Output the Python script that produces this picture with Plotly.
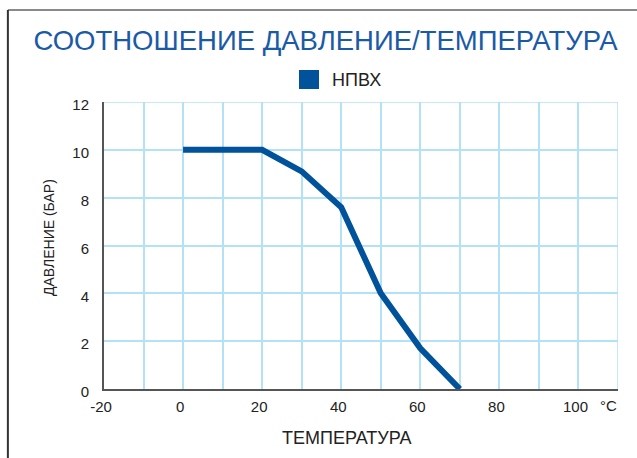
import plotly.graph_objects as go

# Data
temperature = [0, 20, 30, 40, 50, 60, 70]
pressure = [10, 10, 9.1, 7.6, 4.0, 1.7, 0]
series_name = "НПВХ"
x_ticks = [-20, 0, 20, 40, 60, 80, 100]
x_tick_labels = ["-20", "0", "20", "40", "60", "80", "100"]
y_ticks = [0, 2, 4, 6, 8, 10, 12]
title_text = "СООТНОШЕНИЕ ДАВЛЕНИЕ/ТЕМПЕРАТУРА"
x_title = "ТЕМПЕРАТУРА"
y_title = "ДАВЛЕНИЕ (БАР)"
unit_label = "°C"

BLUE = "#00529b"
GRID = "#b3e2f7"
AXIS = "#555555"
TEXT = "#222222"
FONT = "Liberation Sans, Arial, sans-serif"

fig = go.Figure()
fig.add_trace(go.Scatter(
    x=temperature, y=pressure, mode="lines", name=series_name,
    line=dict(color=BLUE, width=6), showlegend=False,
))

fig.update_layout(
    width=637, height=458,
    margin=dict(l=104, r=19, t=102, b=69),
    paper_bgcolor="white", plot_bgcolor="white",
    font=dict(family=FONT, color=TEXT, size=15),
    showlegend=False,
    title=dict(text=title_text, x=0.511, xanchor="center", y=0.912, yanchor="middle",
               font=dict(family=FONT, size=27.5, color="#1a5aa6")),
    xaxis=dict(
        range=[-20, 110], tickvals=x_ticks, ticktext=x_tick_labels, ticks="", showgrid=True,
        gridcolor=GRID, gridwidth=1.5,
        minor=dict(dtick=10, tick0=0, showgrid=True, gridcolor=GRID, gridwidth=1.5),
        showline=True, linecolor=AXIS, linewidth=2, zeroline=False,
        tickfont=dict(size=15, color=TEXT), ticklabelshift=-3, ticklabelstandoff=3,
    ),
    yaxis=dict(
        range=[0, 12], tickvals=y_ticks, ticks="", showgrid=True,
        gridcolor=GRID, gridwidth=1.5,
        showline=True, linecolor=AXIS, linewidth=2, zeroline=False,
        tickfont=dict(size=15, color=TEXT), ticklabelstandoff=10, ticklabelshift=3,
    ),
    shapes=[
        dict(type="line", xref="x", yref="y", x0=-20, x1=110, y0=12, y1=12,
             line=dict(color=GRID, width=1.5), layer="below"),
        dict(type="line", xref="x", yref="y", x0=110, x1=110, y0=0, y1=12,
             line=dict(color=GRID, width=1.5), layer="below"),
        # page frame
        dict(type="line", xref="paper", yref="paper", x0=-0.187, x1=1.04, y0=1.3206, y1=1.3206,
             line=dict(color="#8a8a8a", width=2)),
        dict(type="line", xref="paper", yref="paper", x0=-0.187, x1=-0.187, y0=1.3206, y1=-0.25,
             line=dict(color="#333333", width=2)),
        # legend swatch
        dict(type="rect", xref="paper", yref="paper",
             x0=(299 - 104) / 514, x1=(319 - 104) / 514,
             y0=(389 - 89) / 287, y1=(389 - 70) / 287,
             fillcolor=BLUE, line=dict(width=0)),
    ],
    annotations=[
        dict(text=series_name, xref="paper", yref="paper", x=(330 - 104) / 514, y=(389 - 80) / 287,
             xanchor="left", yanchor="middle", showarrow=False, font=dict(size=18, color=TEXT)),
        dict(text=x_title, xref="paper", yref="paper", x=(347 - 104) / 514, y=(389 - 438) / 287,
             xanchor="center", yanchor="middle", showarrow=False, font=dict(size=18, color=TEXT)),
        dict(text=y_title, xref="paper", yref="paper", x=(49 - 104) / 514, y=(389 - 238) / 287,
             xanchor="center", yanchor="middle", showarrow=False, textangle=-90,
             font=dict(size=14, color=TEXT)),
        dict(text=unit_label, xref="x", yref="paper", x=107.5, y=(389 - 405) / 287,
             xanchor="center", yanchor="middle", showarrow=False, font=dict(size=15, color=TEXT)),
    ],
)

fig.write_html("out.html", config={"displayModeBar": False},
               post_script="document.body.style.margin='0';")
